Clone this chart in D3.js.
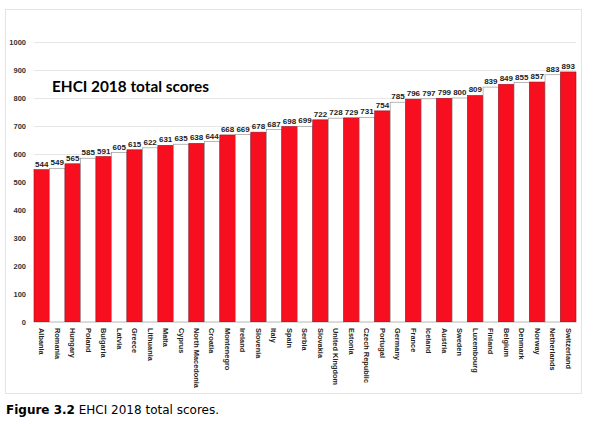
<!DOCTYPE html>
<html lang="en">
<head>
    <meta charset="UTF-8">
    <title>EHCI 2018 total scores</title>
    <script src="https://d3js.org/d3.v7.min.js"></script>
    <style>
        body { margin: 0; background: #fff; }
    </style>
</head>
<body>
    <svg width="596" height="424"></svg>

    <script>
        const countries = ["Albania", "Romania", "Hungary", "Poland", "Bulgaria", "Latvia", "Greece",
            "Lithuania", "Malta", "Cyprus", "North Macedonia", "Croatia", "Montenegro", "Ireland",
            "Slovenia", "Italy", "Spain", "Serbia", "Slovakia", "United Kingdom", "Estonia",
            "Czech Republic", "Portugal", "Germany", "France", "Iceland", "Austria", "Sweden",
            "Luxembourg", "Finland", "Belgium", "Denmark", "Norway", "Netherlands", "Switzerland"];
        const scores = [544, 549, 565, 585, 591, 605, 615, 622, 631, 635, 638, 644, 668, 669, 678,
            687, 698, 699, 722, 728, 729, 731, 754, 785, 796, 797, 799, 800, 809, 839, 849, 855,
            857, 883, 893];
        const yTicks = [0, 100, 200, 300, 400, 500, 600, 700, 800, 900, 1000];

        const svg = d3.select("svg");

        // chart frame
        svg.append("rect")
            .attr("x", 5.5).attr("y", 9.5)
            .attr("width", 576).attr("height", 384)
            .attr("fill", "#fff")
            .attr("stroke", "#e4e4e4")
            .attr("stroke-width", 1);

        const x = d3.scaleBand()
            .domain(countries)
            .range([34, 576])
            .padding(0);

        const y = d3.scaleLinear()
            .domain([0, 1000])
            .range([322, 42]);

        // gridlines
        svg.append("g")
            .selectAll("line")
            .data(yTicks.filter(d => d > 0))
            .enter().append("line")
            .attr("x1", 34).attr("x2", 576)
            .attr("y1", d => Math.round(y(d)) + 0.5)
            .attr("y2", d => Math.round(y(d)) + 0.5)
            .attr("stroke", "#e6e6e6")
            .attr("stroke-width", 1);

        // y axis labels
        const yAxis = d3.axisLeft(y).tickValues(yTicks).tickFormat(d3.format("d")).tickSize(0).tickPadding(8);
        const gy = svg.append("g")
            .attr("transform", "translate(34,0)")
            .call(yAxis);
        gy.select(".domain").remove();
        gy.selectAll("text")
            .attr("font-family", "Liberation Sans, Arial, sans-serif")
            .attr("font-size", "7.5px")
            .attr("font-weight", "bold")
            .attr("fill", "#333");

        // bars
        svg.append("g")
            .selectAll("rect")
            .data(scores)
            .enter().append("rect")
            .attr("x", (d, i) => x(countries[i]))
            .attr("y", d => y(d))
            .attr("width", x.bandwidth())
            .attr("height", d => y(0) - y(d))
            .attr("fill", (d, i) => i % 2 === 0 ? "#f80f1f" : "#ffffff")
            .attr("stroke", (d, i) => i % 2 === 0 ? "#a01020" : "#8a8a8a")
            .attr("stroke-width", 0.6);

        // baseline
        svg.append("line")
            .attr("x1", 34).attr("x2", 576)
            .attr("y1", y(0) + 0.5).attr("y2", y(0) + 0.5)
            .attr("stroke", "#d9d9d9");

        // value labels
        svg.append("g")
            .selectAll("text")
            .data(scores)
            .enter().append("text")
            .attr("x", (d, i) => x(countries[i]) + x.bandwidth() / 2)
            .attr("y", d => y(d) - 3)
            .attr("text-anchor", "middle")
            .attr("font-family", "Liberation Sans, Arial, sans-serif")
            .attr("font-size", "8px")
            .attr("font-weight", "bold")
            .attr("fill", "#222")
            .text(d => d);

        // category labels, rotated
        svg.append("g")
            .selectAll("text")
            .data(countries)
            .enter().append("text")
            .attr("transform", d => `translate(${x(d) + x.bandwidth() / 2 - 2.6},328) rotate(90)`)
            .attr("font-family", "Liberation Sans, Arial, sans-serif")
            .attr("font-size", "7.4px")
            .attr("font-weight", "bold")
            .attr("fill", "#222")
            .text(d => d);

        // chart title
        svg.append("text")
            .attr("x", 52)
            .attr("y", 92)
            .attr("font-family", "Lato, Open Sans, sans-serif")
            .attr("font-size", "16px")
            .attr("font-weight", "bold")
            .attr("fill", "#000")
            .attr("textLength", 157)
            .attr("lengthAdjust", "spacingAndGlyphs")
            .text("EHCI 2018 total scores");

        // figure caption
        const cap = svg.append("text")
            .attr("x", 6)
            .attr("y", 414)
            .attr("font-family", "DejaVu Sans, Verdana, sans-serif")
            .attr("font-size", "12px")
            .attr("fill", "#000");
        cap.append("tspan").attr("font-weight", "bold").text("Figure 3.2");
        cap.append("tspan").text(" EHCI 2018 total scores.");
    </script>
</body>
</html>
